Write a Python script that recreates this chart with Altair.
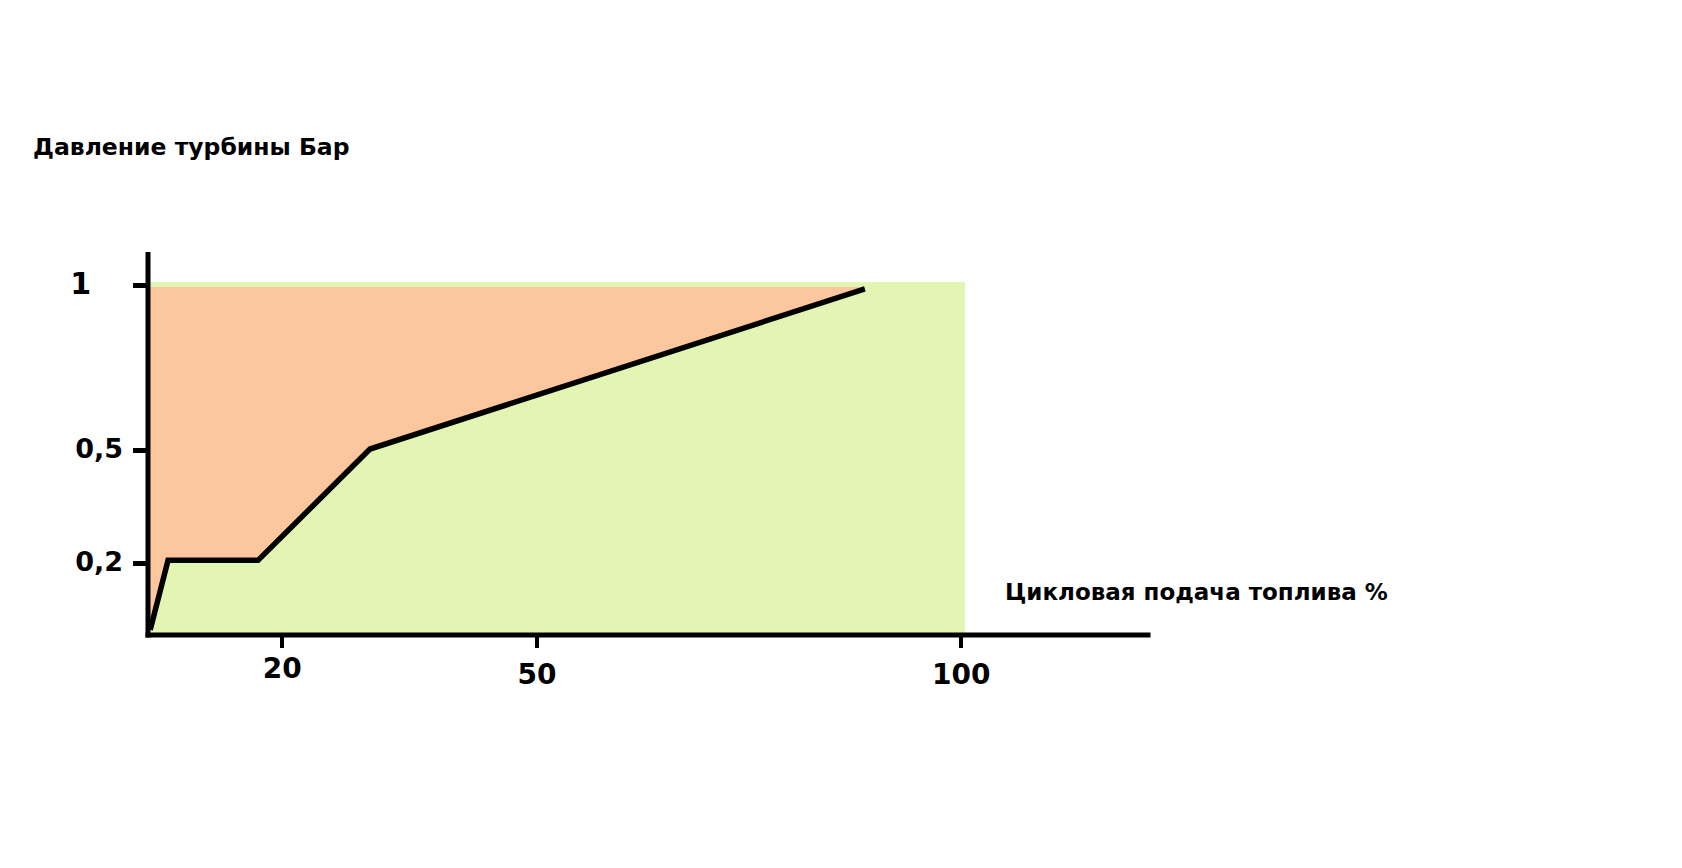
import altair as alt
import pandas as pd

# Curve: cyclic fuel delivery (%) vs turbine pressure (bar)
fuel = [4.5, 6.6, 17.2, 30.4, 88.7]
pressure = [0.013, 0.207, 0.207, 0.503, 0.988]

# Zones
green_x = [4.18]
green_x2 = [100.5]
green_y = [0.0]
green_y2 = [1.009]
orange_top = 0.994

x_ticks = [20, 50, 100]
y_ticks = [0.2, 0.5, 1]
y_labels = ["0,2", "0,5", "1"]

x_title = "Цикловая подача топлива %"
y_title = "Давление турбины Бар"

FONT = "DejaVu Sans"
W, H = 1000, 380.5

curve = pd.DataFrame({"x": fuel, "y": pressure, "top": [orange_top] * len(fuel)})
zone = pd.DataFrame({"x": green_x, "x2": green_x2, "y": green_y, "y2": green_y2})

xscale = alt.Scale(domain=[4.18, 122.0], nice=False, zero=False)
yscale = alt.Scale(domain=[0, 0.2, 0.5, 1, 1.094], range=[380.5, 309, 196, 31, 0], nice=False, zero=False)

label_expr = " : ".join(
    [f"datum.value == {v} ? '{t}'" for v, t in zip(y_ticks, y_labels)]
) + " : ''"

xaxis = alt.Axis(
    values=x_ticks, grid=False, domainColor="black", domainWidth=5, domainCap="square",
    tickColor="black", tickWidth=4, tickSize=13,
    labelFont=FONT, labelFontSize=28, labelFontWeight="bold", labelColor="black",
    labelBaseline="top", labelPadding=alt.condition("datum.value == 20", alt.value(8), alt.value(14)),
    title=x_title, titleFont=FONT, titleFontSize=23, titleFontWeight="bold", titleColor="black",
    titleAngle=0, titleAlign="left", titleBaseline="alphabetic", titleX=857, titleY=-35,
    zindex=2,
)
yaxis = alt.Axis(
    values=y_ticks, labelExpr=label_expr, grid=False, domainColor="black", domainWidth=5, domainCap="square",
    tickColor="black", tickWidth=5, tickSize=15,
    labelFont=FONT, labelFontSize=alt.condition("datum.value == 1", alt.value(30), alt.value(27)),
    labelFontWeight="bold", labelColor="black",
    labelAlign="right", labelBaseline="middle", labelOffset=-1,
    labelPadding=alt.condition("datum.value == 1", alt.value(42), alt.value(10)),
    title=y_title, titleFont=FONT, titleFontSize=23.5, titleFontWeight="bold", titleColor="black",
    titleAngle=0, titleAlign="left", titleBaseline="alphabetic", titleX=-115, titleY=-100,
    zindex=2,
)

green = alt.Chart(zone).mark_rect(color="#E3F5B3").encode(
    x=alt.X("x:Q", scale=xscale, axis=xaxis),
    x2="x2:Q",
    y=alt.Y("y:Q", scale=yscale, axis=yaxis),
    y2="y2:Q",
)

orange = alt.Chart(curve).mark_area(color="#FCC69F", opacity=1).encode(
    x=alt.X("x:Q", scale=xscale),
    y=alt.Y("y:Q", scale=yscale),
    y2="top:Q",
)

line = alt.Chart(curve).mark_line(color="black", strokeWidth=5.5, strokeJoin="miter", strokeCap="butt").encode(
    x=alt.X("x:Q", scale=xscale),
    y=alt.Y("y:Q", scale=yscale),
)

chart = alt.layer(green, orange, line).properties(
    width=W, height=H,
    autosize=alt.AutoSizeParams(type="none"),
    padding={"left": 139.5, "top": 246, "right": 480, "bottom": 200},
    background="white",
).configure_view(stroke=None)

chart.save("out.html", embed_options={"renderer": "svg", "actions": False})
